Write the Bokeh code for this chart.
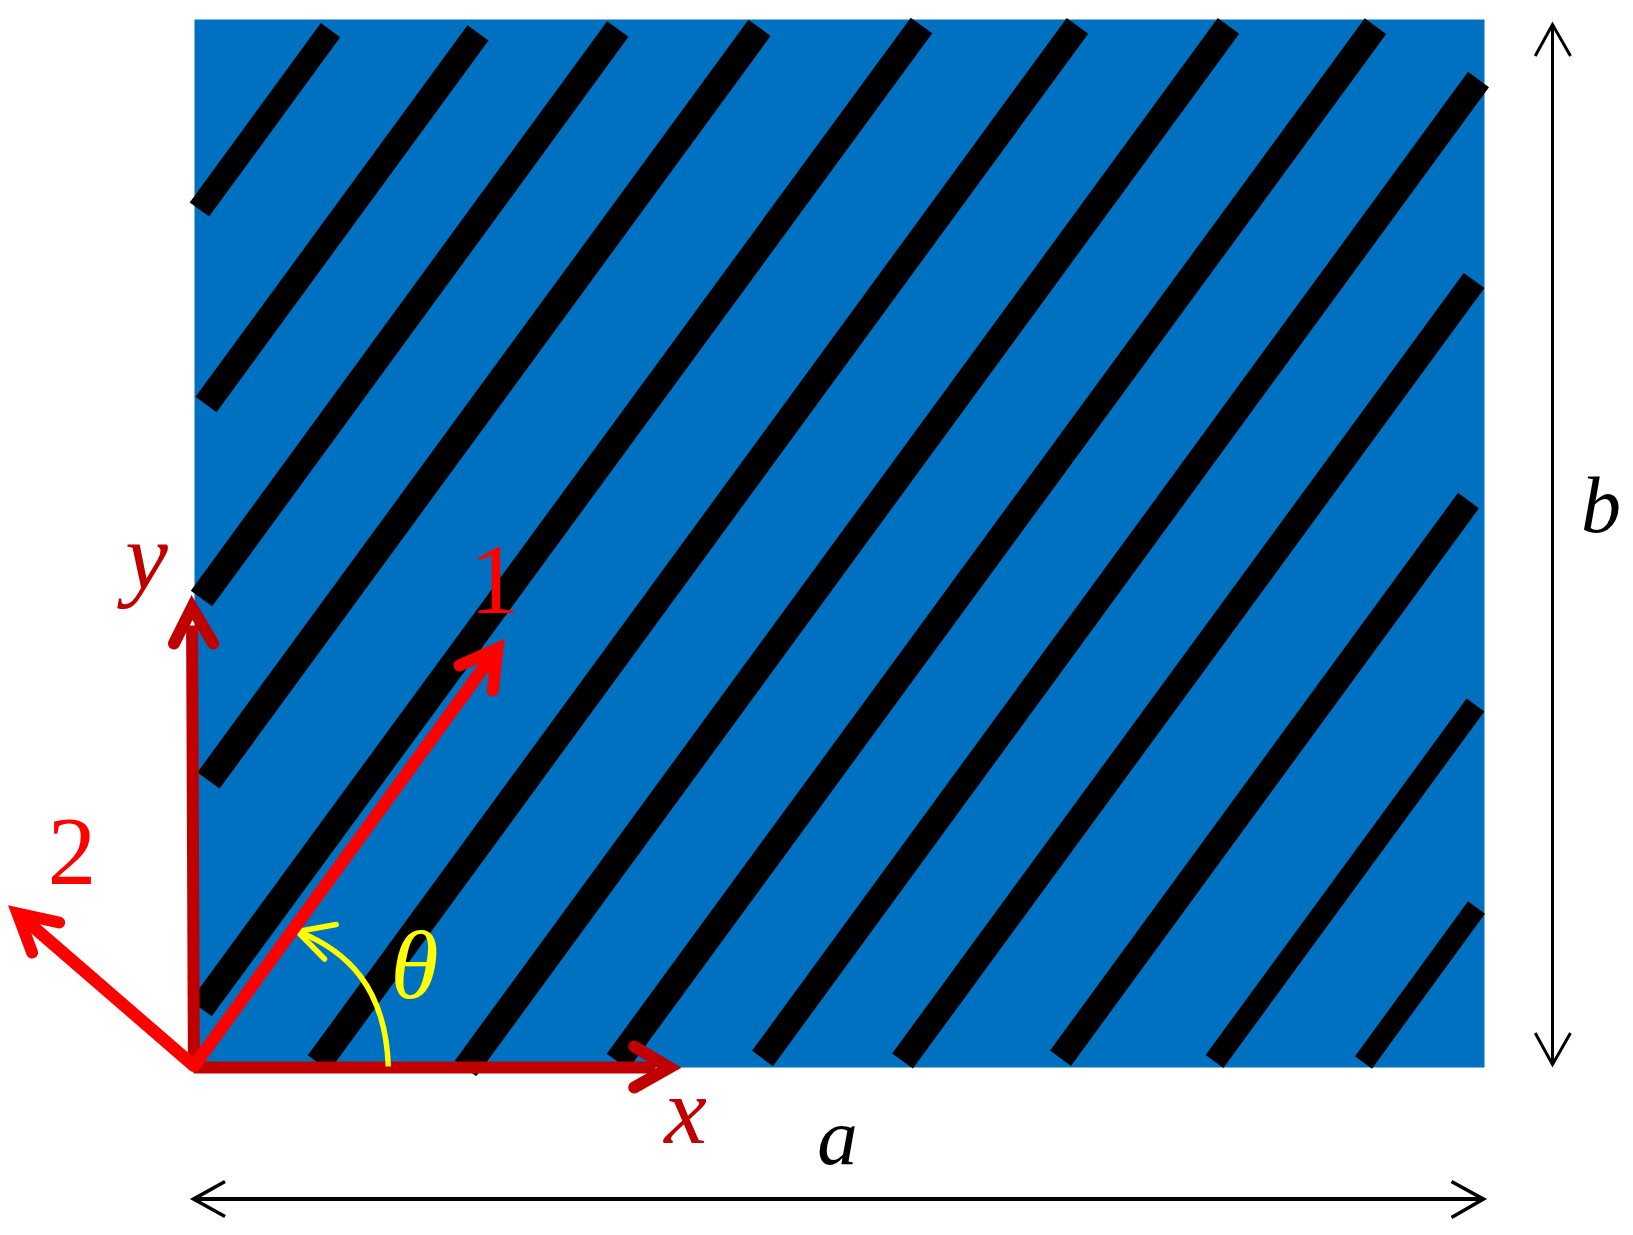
from bokeh.plotting import figure
from bokeh.models import Range1d
from bokeh.core.properties import value
from bokeh.embed import file_html
from bokeh.resources import INLINE

# panel extent
panel_x = [194, 1484]
panel_y = [19, 1067]

# black fibres: upper and lower ends
fibre_x0 = [330, 477.5, 617.3, 759, 921, 1077, 1228, 1375, 1478, 1473.6, 1468, 1475, 1476]
fibre_y0 = [29.7, 32.4, 28.5, 27.3, 25, 25.3, 25.3, 25.6, 79, 280, 500, 704.5, 907]
fibre_x1 = [198.9, 205.5, 201, 208, 200.5, 318, 465, 617, 762, 902, 1060, 1214, 1363]
fibre_y1 = [209, 404, 598, 780, 1008, 1062.6, 1068, 1061, 1058, 1060.5, 1057.7, 1061, 1062]
fibre_w = [24, 26, 26.5, 27.5, 26.6, 26.6, 26.6, 26.6, 26, 25.7, 26, 22, 21]

# coordinate axes: shaft and head (arm, vertex, arm)
axes = [
    dict(name="y", color="#C00000", shaft=([193.4, 191.6], [1067, 625]),
         head=([173.5, 191.5, 212.7], [643, 607, 643])),
    dict(name="x", color="#C00000", shaft=([193, 655], [1067, 1067]),
         head=([633.7, 669, 633.7], [1046, 1067, 1087])),
    dict(name="2", color="#FF0000", shaft=([193, 30], [1065, 924]),
         head=([58.7, 17, 31.6], [922, 913, 952])),
    dict(name="1", color="#FF0000", shaft=([193.9, 486], [1065, 663]),
         head=([459, 497, 492.3], [665, 648, 690])),
]

# angle marker
arc_start = (387.8, 1066)
arc_end = (298, 931)
arc_ctrl = [(385, 985), (345, 950)]
arc_head_x = [335.7, 297, 324]
arc_head_y = [924, 931, 958.5]

# dimension arrows
dim_a_x, dim_a_y = [193, 1483], [1198.6, 1198.6]
dim_a_heads = [([224.5, 193, 224.5], [1181, 1198.6, 1216]), ([1451, 1483, 1451], [1181, 1198.6, 1217])]
dim_b_x, dim_b_y = [1552, 1552], [24, 1064]
dim_b_heads = [([1534.7, 1552, 1570], [55.5, 24, 55.5]), ([1534.7, 1552, 1570], [1032.5, 1064, 1032.5])]

# labels
labels = [
    ("y", 146, 556, "#C00000", "italic", 96),
    ("x", 685, 1110, "#C00000", "italic", 96),
    ("1", 494, 580, "#FF0000", "normal", 99),
    ("2", 71.4, 851, "#FF0000", "normal", 97),
    ("\u03b8", 414, 964, "#FFFF00", "italic", 98),
    ("a", 837, 1136, "#000000", "italic", 81),
    ("b", 1600.5, 504, "#000000", "italic", 80),
]

p = figure(width=1625, height=1227, output_backend="svg", toolbar_location=None,
           x_range=Range1d(0, 1625), y_range=Range1d(1227, 0), min_border=0)
p.axis.visible = False
p.grid.visible = False
p.outline_line_color = None
p.background_fill_color = "white"

p.quad(left=[panel_x[0]], right=[panel_x[1]], top=[panel_y[0]], bottom=[panel_y[1]],
       fill_color="#0070C0", line_color=None)

p.segment(x0=fibre_x0, y0=fibre_y0, x1=fibre_x1, y1=fibre_y1,
          line_color="black", line_width=fibre_w, line_cap="butt")

for ax in axes[:2]:
    p.line(ax["shaft"][0], ax["shaft"][1], line_color=ax["color"], line_width=12, line_cap="butt")
    p.line(ax["head"][0], ax["head"][1], line_color=ax["color"], line_width=12,
           line_cap="round", line_join="miter")

p.bezier(x0=[arc_start[0]], y0=[arc_start[1]], x1=[arc_end[0]], y1=[arc_end[1]],
         cx0=[arc_ctrl[0][0]], cy0=[arc_ctrl[0][1]], cx1=[arc_ctrl[1][0]], cy1=[arc_ctrl[1][1]],
         line_color="#FFFF00", line_width=5.5)
p.line(arc_head_x, arc_head_y, line_color="#FFFF00", line_width=5.5, line_cap="round", line_join="miter")

for ax in axes[2:]:
    p.line(ax["shaft"][0], ax["shaft"][1], line_color=ax["color"], line_width=12.5, line_cap="round")
    p.line(ax["head"][0], ax["head"][1], line_color=ax["color"], line_width=12,
           line_cap="round", line_join="miter")

p.line(dim_a_x, dim_a_y, line_color="black", line_width=4)
for hx, hy in dim_a_heads:
    p.line(hx, hy, line_color="black", line_width=3.5, line_join="miter")
p.line(dim_b_x, dim_b_y, line_color="black", line_width=3)
for hx, hy in dim_b_heads:
    p.line(hx, hy, line_color="black", line_width=3, line_join="miter")

for txt, x, y, col, style, size in labels:
    p.text(x=[x], y=[y], text=[txt], text_color=col, text_font=value("Liberation Serif"),
           text_font_style=style, text_font_size=f"{size}px", text_align="center",
           text_baseline="alphabetic")

open("out.html", "w").write(file_html(p, INLINE))
